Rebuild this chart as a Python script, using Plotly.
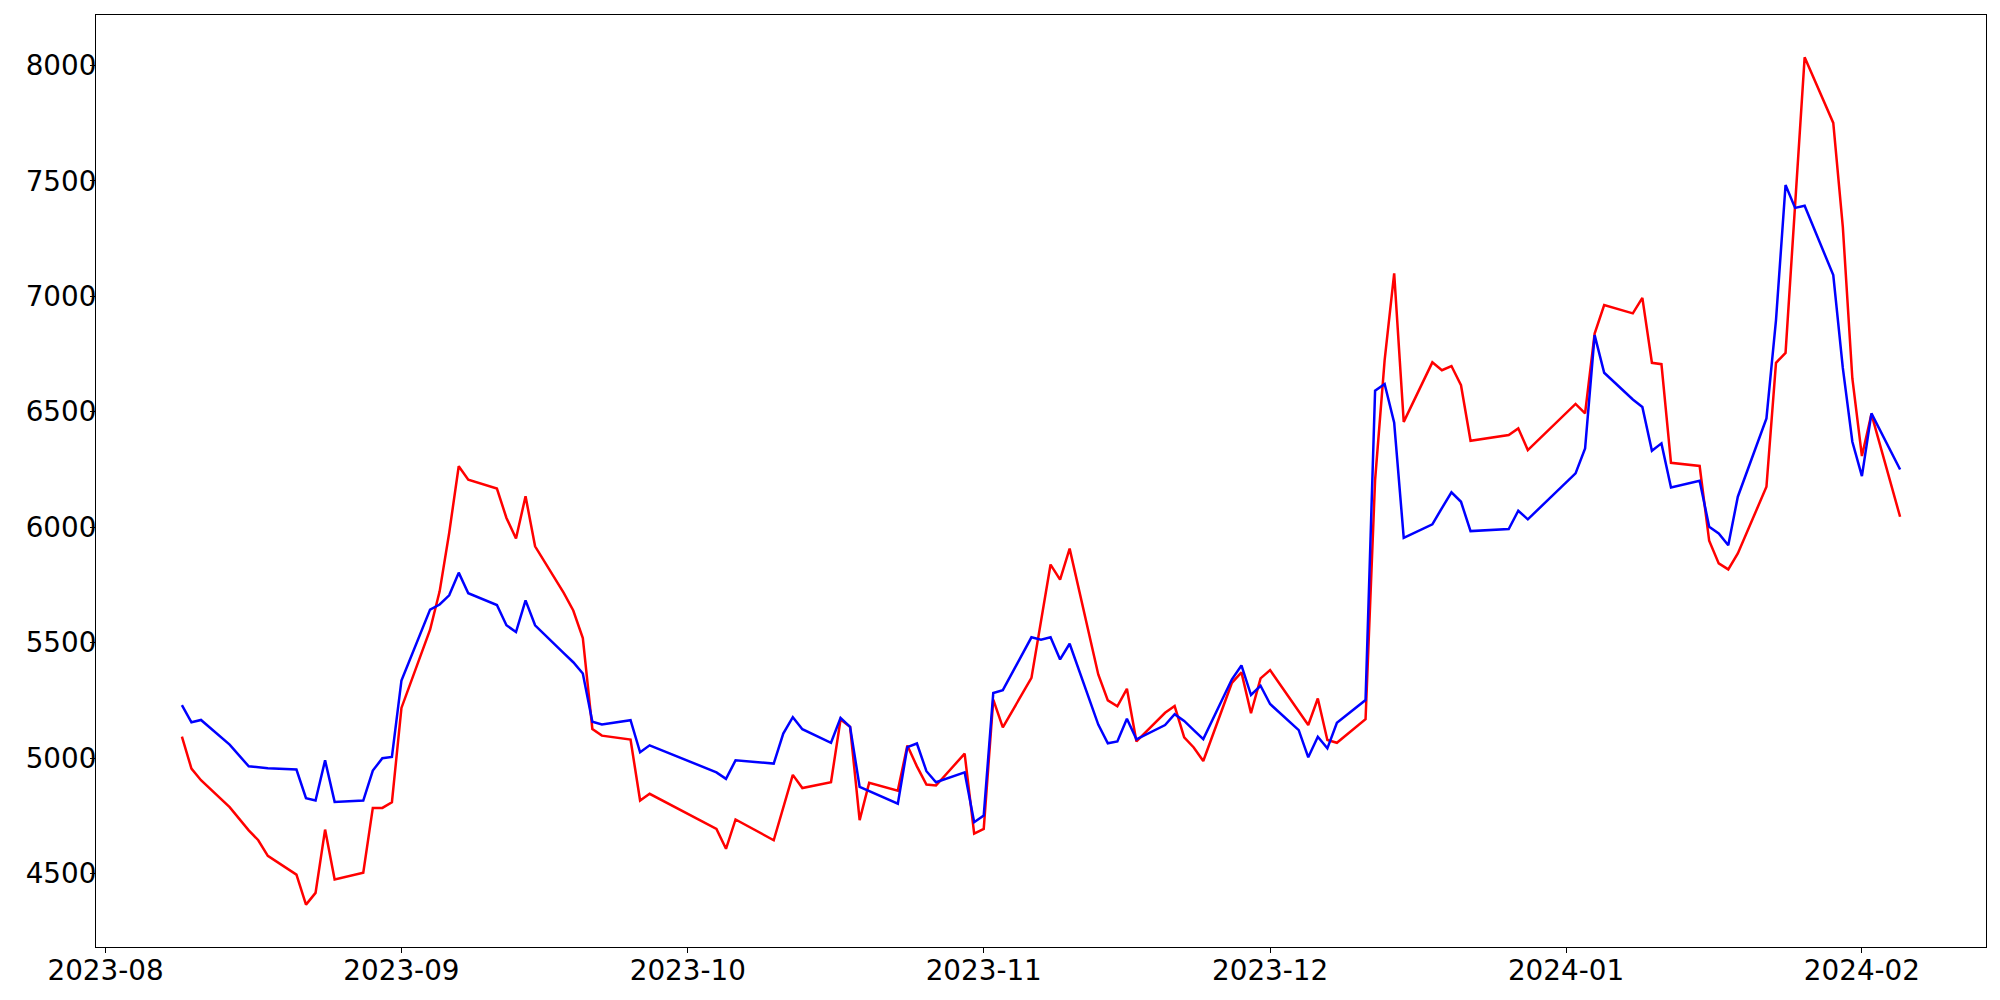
import plotly.graph_objects as go

dates = [
    "2023-08-09", "2023-08-10", "2023-08-11", "2023-08-14", "2023-08-16", "2023-08-17", "2023-08-18",
    "2023-08-21", "2023-08-22", "2023-08-23", "2023-08-24", "2023-08-25", "2023-08-28", "2023-08-29",
    "2023-08-30", "2023-08-31",
    "2023-09-01", "2023-09-04", "2023-09-05", "2023-09-06", "2023-09-07", "2023-09-08", "2023-09-11",
    "2023-09-12", "2023-09-13", "2023-09-14", "2023-09-15", "2023-09-18", "2023-09-19", "2023-09-20",
    "2023-09-21", "2023-09-22", "2023-09-25", "2023-09-26", "2023-09-27",
    "2023-10-04", "2023-10-05", "2023-10-06", "2023-10-10", "2023-10-11", "2023-10-12", "2023-10-13",
    "2023-10-16", "2023-10-17", "2023-10-18", "2023-10-19", "2023-10-20", "2023-10-23", "2023-10-24",
    "2023-10-25", "2023-10-26", "2023-10-27", "2023-10-30", "2023-10-31",
    "2023-11-01", "2023-11-02", "2023-11-03", "2023-11-06", "2023-11-07", "2023-11-08", "2023-11-09",
    "2023-11-10", "2023-11-13", "2023-11-14", "2023-11-15", "2023-11-16", "2023-11-17", "2023-11-20",
    "2023-11-21", "2023-11-22", "2023-11-23", "2023-11-24", "2023-11-27", "2023-11-28", "2023-11-29",
    "2023-11-30",
    "2023-12-01", "2023-12-04", "2023-12-05", "2023-12-06", "2023-12-07", "2023-12-08", "2023-12-11",
    "2023-12-12", "2023-12-13", "2023-12-14", "2023-12-15", "2023-12-18", "2023-12-19", "2023-12-20",
    "2023-12-21", "2023-12-22", "2023-12-26", "2023-12-27", "2023-12-28",
    "2024-01-02", "2024-01-03", "2024-01-04", "2024-01-05", "2024-01-08", "2024-01-09", "2024-01-10",
    "2024-01-11", "2024-01-12", "2024-01-15", "2024-01-16", "2024-01-17", "2024-01-18", "2024-01-19",
    "2024-01-22", "2024-01-23", "2024-01-24", "2024-01-25", "2024-01-26", "2024-01-29", "2024-01-30",
    "2024-01-31",
    "2024-02-01", "2024-02-02", "2024-02-05",
]

red_values = [
    5093, 4954, 4904, 4787, 4687, 4644, 4576, 4495, 4365, 4416, 4690, 4474, 4503, 4784, 4784, 4808,
    5217, 5556, 5722, 5975, 6264, 6206, 6167, 6040, 5951, 6134, 5917, 5715, 5639, 5520, 5126, 5097,
    5080, 4816, 4845,
    4693, 4607, 4734, 4644, 4785, 4927, 4870, 4895, 5167, 5135, 4731, 4893, 4859, 5054, 4964, 4885,
    4881, 5019, 4673,
    4693, 5253, 5133, 5347, 5592, 5838, 5773, 5907, 5362, 5250, 5224, 5300, 5072, 5196, 5225, 5090,
    5046, 4987, 5326, 5371, 5194, 5345,
    5381, 5200, 5143, 5258, 5078, 5066, 5168, 6204, 6724, 7099, 6456, 6714, 6680, 6698, 6615, 6374,
    6399, 6428, 6334,
    6534, 6493, 6839, 6962, 6926, 6993, 6712, 6706, 6279, 6265, 5941, 5843, 5817, 5886, 6175, 6712,
    6755, 7395, 8035, 7751, 7301, 6644,
    6308, 6490, 6045,
]

blue_values = [
    5229, 5155, 5165, 5058, 4964, 4960, 4956, 4950, 4826, 4816, 4990, 4810, 4816, 4946, 4999, 5005,
    5336, 5643, 5665, 5705, 5803, 5714, 5663, 5575, 5546, 5683, 5575, 5454, 5415, 5366, 5157, 5145,
    5164, 5025, 5055,
    4938, 4910, 4990, 4976, 5106, 5177, 5125, 5066, 5174, 5135, 4875, 4856, 4802, 5047, 5063, 4943,
    4895, 4938, 4722,
    4751, 5282, 5294, 5523, 5513, 5523, 5427, 5495, 5145, 5064, 5072, 5170, 5081, 5143, 5190, 5161,
    5121, 5082, 5341, 5401, 5273, 5313,
    5234, 5121, 5003, 5092, 5042, 5153, 5251, 6591, 6620, 6452, 5954, 6012, 6083, 6151, 6110, 5983,
    5992, 6071, 6034,
    6233, 6341, 6832, 6669, 6553, 6521, 6331, 6363, 6172, 6201, 6002, 5973, 5922, 6132, 6471, 6897,
    7482, 7383, 7392, 7092, 6690, 6370,
    6221, 6493, 6250,
]

y_ticks = [4500, 5000, 5500, 6000, 6500, 7000, 7500, 8000]

# matplotlib-like 5% padding around the data
ymin = min(red_values + blue_values)
ymax = max(red_values + blue_values)
ypad = (ymax - ymin) * 0.05

fig = go.Figure()
fig.add_trace(go.Scatter(x=dates, y=red_values, mode="lines", name="red",
                         line=dict(color="red", width=2.5)))
fig.add_trace(go.Scatter(x=dates, y=blue_values, mode="lines", name="blue",
                         line=dict(color="blue", width=2.5)))

axis_style = dict(
    showgrid=False,
    zeroline=False,
    showline=True,
    linecolor="black",
    linewidth=1,
    mirror=True,
    ticks="outside",
    ticklen=5,
    tickwidth=1,
    tickcolor="black",
    automargin=False,
)

# the page body adds an 8px offset, so the figure is 8px smaller and margins shifted
fig.update_layout(
    width=1992,
    height=992,
    showlegend=False,
    font=dict(family="DejaVu Sans", size=27.8, color="black"),
    paper_bgcolor="white",
    plot_bgcolor="white",
    margin=dict(l=88, r=14, t=7, b=53),
    xaxis=dict(
        range=["2023-07-31", "2024-02-14"],
        tickformat="%Y-%m",
        dtick="M1",
        tick0="2023-08-01",
        ticklabelstandoff=-6,
        **axis_style
    ),
    yaxis=dict(
        range=[ymin - ypad, ymax + ypad],
        tickvals=y_ticks,
        ticklabelstandoff=-12,
        **axis_style
    ),
)

fig.write_html("out.html")
